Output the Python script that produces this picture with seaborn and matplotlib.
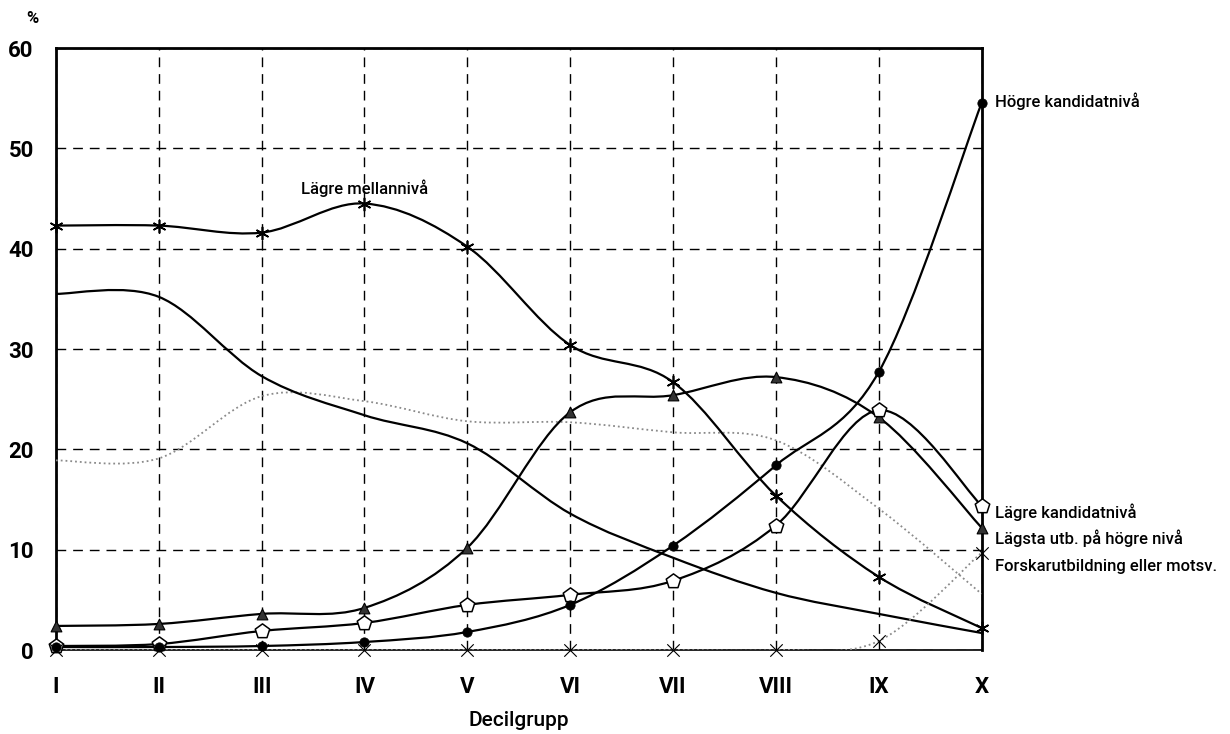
import numpy as np
import matplotlib
matplotlib.use('Agg')
import matplotlib.pyplot as plt
from matplotlib.path import Path
from matplotlib.patches import PathPatch
import seaborn as sns

decil = ['I', 'II', 'III', 'IV', 'V', 'VI', 'VII', 'VIII', 'IX', 'X']
lagre_mellan = [42.3, 42.3, 41.6, 44.5, 40.2, 30.4, 26.7, 15.4, 7.3, 2.2]
serie_a = [35.5, 35.2, 27.3, 23.4, 20.6, 13.6, 9.2, 5.7, 3.6, 1.7]
serie_b = [18.9, 19.1, 25.3, 24.8, 22.8, 22.7, 21.7, 20.9, 14.1, 5.6]
lagsta = [2.4, 2.6, 3.6, 4.2, 10.2, 23.7, 25.4, 27.2, 23.2, 12.2]
lagre_kand = [0.4, 0.6, 1.9, 2.7, 4.5, 5.5, 6.9, 12.4, 23.9, 14.4]
hogre_kand = [0.3, 0.3, 0.4, 0.8, 1.8, 4.5, 10.4, 18.4, 27.7, 54.5]
forskar = [0.0, 0.0, 0.0, 0.0, 0.0, 0.0, 0.0, 0.0, 0.9, 9.7]

sns.set_style('white')
plt.rcParams['font.family'] = ['Roboto', 'DejaVu Sans']
plt.rcParams['text.color'] = 'black'
plt.rcParams['xtick.color'] = 'black'
plt.rcParams['ytick.color'] = 'black'
plt.rcParams['axes.labelcolor'] = 'black'

xs = np.arange(len(decil))


def smooth(ax, ys, color, lw, ls='-'):
    # excel-liknande utjämnad linje (bezier genom punkterna)
    p = np.column_stack([xs, ys]).astype(float)
    verts = [p[0]]
    codes = [Path.MOVETO]
    n = len(p)
    for i in range(n - 1):
        p0 = p[max(i - 1, 0)]
        p1 = p[i]
        p2 = p[i + 1]
        p3 = p[min(i + 2, n - 1)]
        verts += [p1 + (p2 - p0) / 6, p2 - (p3 - p1) / 6, p2]
        codes += [Path.CURVE4] * 3
    patch = PathPatch(Path(verts, codes), facecolor='none', edgecolor=color,
                      lw=lw, ls=ls, transform=ax.transData, zorder=3)
    ax.add_patch(patch)


fig = plt.figure(figsize=(12.3, 7.34), dpi=100)
ax = fig.add_axes([0.0455, 0.1144, 0.7525, 0.8202])

serier = [
    (serie_b, '#8a8a8a', 1.3, ':', None),
    (serie_a, 'black', 1.6, '-', None),
    (lagre_mellan, 'black', 1.6, '-', dict(marker=(6, 2, 0), s=80, color='black', linewidth=1.2)),
    (lagsta, 'black', 1.6, '-', dict(marker='^', s=60, color='#333333', edgecolor='black', linewidth=0.8)),
    (lagre_kand, 'black', 1.6, '-', dict(marker='p', s=120, color='white', edgecolor='black', linewidth=1.1)),
    (hogre_kand, 'black', 1.6, '-', dict(marker='o', s=45, color='black', edgecolor='black')),
    (forskar, '#8a8a8a', 1.3, ':', dict(marker='x', s=80, color='black', linewidth=0.8)),
]

for ys, col, lw, ls, mk in serier:
    smooth(ax, ys, col, lw, ls)
    if mk is not None:
        sns.scatterplot(x=xs, y=ys, ax=ax, zorder=4, clip_on=False, legend=False, **mk)

ax.set_xlim(0, 9)
ax.set_ylim(0, 60)
ax.set_xticks(xs)
ax.set_xticklabels(decil)
ax.set_yticks(np.arange(0, 61, 10))
ax.tick_params(axis='both', length=0, labelsize=16)
ax.tick_params(axis='x', pad=19)
ax.tick_params(axis='y', pad=16)
for lab in ax.get_xticklabels() + ax.get_yticklabels():
    lab.set_fontweight('bold')

ax.grid(True, color='black', ls=(0, (7, 5)), lw=1.0)
ax.set_axisbelow(True)
for s in ['left', 'top', 'right']:
    ax.spines[s].set_linewidth(2)
    ax.spines[s].set_color('black')
ax.spines['bottom'].set_linewidth(1.2)
ax.spines['bottom'].set_color('black')

ax.set_xlabel('Decilgrupp', fontsize=15, fontweight='medium', labelpad=9)
fig.text(0.021, 0.975, '%', fontsize=12, fontweight='bold', ha='left', va='center')

ax.text(3.0, 46.0, 'Lägre mellannivå', fontsize=12, fontweight='medium', ha='center', va='center')
ax.text(9.13, 54.7, 'Högre kandidatnivå', fontsize=12, fontweight='medium', ha='left', va='center')
ax.text(9.13, 13.7, 'Lägre kandidatnivå', fontsize=12, fontweight='medium', ha='left', va='center')
ax.text(9.13, 11.1, 'Lägsta utb. på högre nivå', fontsize=12, fontweight='medium', ha='left', va='center')
ax.text(9.13, 8.3, 'Forskarutbildning eller motsv.', fontsize=12, fontweight='medium', ha='left', va='center')

fig.savefig('out.png', dpi=100)
